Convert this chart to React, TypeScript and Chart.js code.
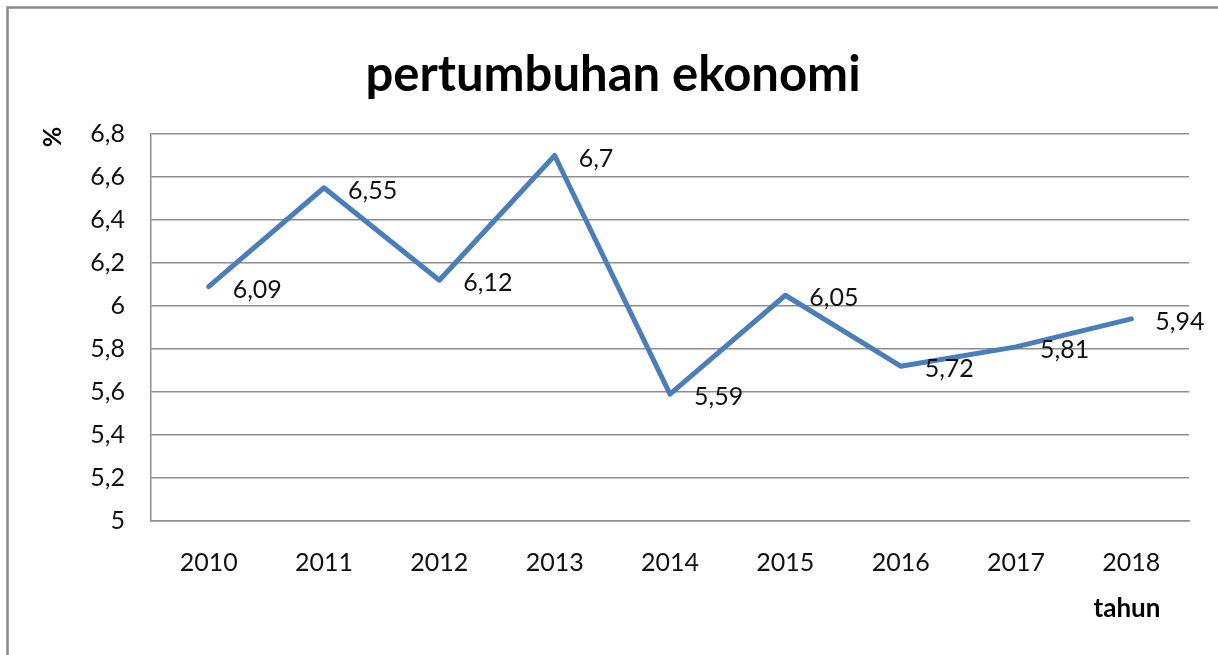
import React, { useEffect, useRef } from "react";
import { Chart, registerables } from "chart.js";

Chart.register(...registerables);

const years = ["2010", "2011", "2012", "2013", "2014", "2015", "2016", "2017", "2018"];
const growth = [6.09, 6.55, 6.12, 6.7, 5.59, 6.05, 5.72, 5.81, 5.94];
const yTicks = [5, 5.2, 5.4, 5.6, 5.8, 6, 6.2, 6.4, 6.6, 6.8];
const chartTitle = "pertumbuhan ekonomi";
const yTitle = "%";
const xTitle = "tahun";

const FONT = "Lato";
const fmt = (v: number) => String(Number(v.toFixed(2))).replace(".", ",");

const decorPlugin = {
  id: "decor",
  beforeDraw(chart: any) {
    const ctx = chart.ctx;
    ctx.save();
    ctx.fillStyle = "#ffffff";
    ctx.fillRect(0, 0, chart.width, chart.height);
    ctx.restore();
  },
  afterDraw(chart: any) {
    const ctx = chart.ctx;
    ctx.save();
    // outer frame
    ctx.strokeStyle = "#8a8a8a";
    ctx.lineWidth = 2.5;
    ctx.strokeRect(7.5, 7.5, chart.width + 20, chart.height + 20);
    // title
    ctx.fillStyle = "#000000";
    ctx.font = `bold 49px ${FONT}`;
    ctx.textAlign = "center";
    ctx.textBaseline = "alphabetic";
    ctx.fillText(chartTitle, 613, 91);
    // x title
    ctx.font = `bold 26px ${FONT}`;
    ctx.fillText(xTitle, 1127, 617);
    // y title
    ctx.save();
    ctx.translate(53, 137);
    ctx.rotate(-Math.PI / 2);
    ctx.textBaseline = "middle";
    ctx.font = `bold 25px ${FONT}`;
    ctx.fillText(yTitle, 0, 0);
    ctx.restore();
    // data labels
    const meta = chart.getDatasetMeta(0);
    ctx.font = `25px ${FONT}`;
    ctx.fillStyle = "#111111";
    ctx.textAlign = "left";
    ctx.textBaseline = "alphabetic";
    meta.data.forEach((pt: any, i: number) => {
      ctx.fillText(fmt(growth[i]), pt.x + 24, pt.y + 11);
    });
    ctx.restore();
  },
};

export default function App() {
  const ref = useRef<HTMLCanvasElement | null>(null);
  useEffect(() => {
    let chart: Chart | null = null;
    let cancelled = false;
    const fontsReady = (document as any).fonts
      ? Promise.all([
          (document as any).fonts.load(`25px ${FONT}`),
          (document as any).fonts.load(`bold 48px ${FONT}`),
        ]).catch(() => null)
      : Promise.resolve(null);
    fontsReady.then(() => {
      if (cancelled || !ref.current) return;
      chart = new Chart(ref.current, {
        type: "line",
        data: {
          labels: years,
          datasets: [
            {
              label: chartTitle,
              data: growth,
              borderColor: "#4a7ebb",
              backgroundColor: "#4a7ebb",
              borderWidth: 5,
              borderCapStyle: "round",
              borderJoinStyle: "round",
              pointRadius: 0,
              tension: 0,
              fill: false,
            },
          ],
        },
        options: {
          responsive: false,
          animation: false,
          layout: { padding: { left: 51, right: 29, top: 134, bottom: 74 } },
          plugins: {
            legend: { display: false },
            title: { display: false },
            tooltip: { enabled: false },
          },
          scales: {
            x: {
              type: "category",
              offset: true,
              grid: { display: false, drawTicks: false },
              border: { display: true, color: "#8e8e8e", width: 1.5 },
              ticks: {
                color: "#111111",
                font: { family: FONT, size: 25 },
                padding: 27,
                maxRotation: 0,
                autoSkip: false,
              },
              afterFit: (s: any) => {
                s.height = 60;
              },
            },
            y: {
              min: 5,
              max: 6.8,
              afterBuildTicks: (s: any) => {
                s.ticks = yTicks.map((v) => ({ value: v }));
              },
              grid: { color: "#8e8e8e", lineWidth: 1.5, drawTicks: false },
              border: { display: true, color: "#8e8e8e", width: 1.5 },
              ticks: {
                color: "#111111",
                font: { family: FONT, size: 25 },
                padding: 26,
                callback: (v: any) => fmt(Number(v)),
              },
              afterFit: (s: any) => {
                s.width = 100;
              },
            },
          },
        },
        plugins: [decorPlugin],
      } as any);
    });
    return () => {
      cancelled = true;
      if (chart) chart.destroy();
    };
  }, []);
  return (
    <div style={{ position: "absolute", left: 0, top: 0, width: 1218, height: 655, background: "#fff" }}>
      <canvas ref={ref} width={1218} height={655} style={{ display: "block" }} />
    </div>
  );
}
